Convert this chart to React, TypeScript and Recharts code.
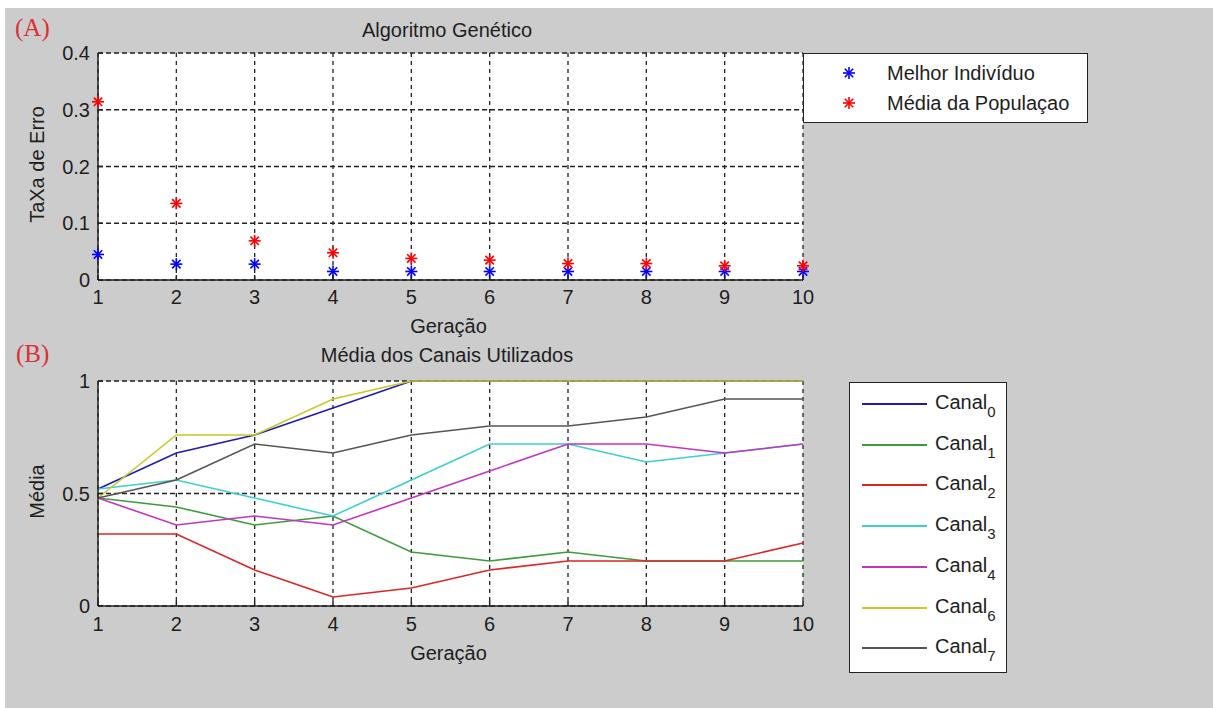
import React from 'react';
import {
  ScatterChart,
  Scatter,
  LineChart,
  Line,
  XAxis,
  YAxis,
  CartesianGrid,
  Legend,
} from 'recharts';

// Generations on the horizontal axis of both panels
const geracoes = [1, 2, 3, 4, 5, 6, 7, 8, 9, 10];

// Panel A: error rate per generation
const melhorIndividuo = [0.045, 0.028, 0.028, 0.015, 0.015, 0.015, 0.015, 0.015, 0.015, 0.015];
const mediaPopulacao = [0.314, 0.135, 0.069, 0.048, 0.038, 0.035, 0.029, 0.029, 0.025, 0.025];
const taxaTicks = [0, 0.1, 0.2, 0.3, 0.4];

// Panel B: mean usage of each channel per generation
const canal0 = [0.52, 0.68, 0.76, 0.88, 1, 1, 1, 1, 1, 1];
const canal1 = [0.48, 0.44, 0.36, 0.4, 0.24, 0.2, 0.24, 0.2, 0.2, 0.2];
const canal2 = [0.32, 0.32, 0.16, 0.04, 0.08, 0.16, 0.2, 0.2, 0.2, 0.28];
const canal3 = [0.52, 0.56, 0.48, 0.4, 0.56, 0.72, 0.72, 0.64, 0.68, 0.72];
const canal4 = [0.48, 0.36, 0.4, 0.36, 0.48, 0.6, 0.72, 0.72, 0.68, 0.72];
const canal6 = [0.48, 0.76, 0.76, 0.92, 1, 1, 1, 1, 1, 1];
const canal7 = [0.48, 0.56, 0.72, 0.68, 0.76, 0.8, 0.8, 0.84, 0.92, 0.92];
const canalIds = ['0', '1', '2', '3', '4', '6', '7'];
const canalSeries = [canal0, canal1, canal2, canal3, canal4, canal6, canal7];
const canalCores = ['#1c1cb4', '#3c9c3c', '#e02424', '#3ccfcf', '#c434c4', '#c8c828', '#555555'];
const mediaTicks = [0, 0.5, 1];

const FONT = "'Liberation Sans', Arial, Helvetica, sans-serif";
const TEXT = '#1e1e1e';
const AXIS = '#222222';

const dadosMelhor = geracoes.map((g, i) => ({ g, v: melhorIndividuo[i] }));
const dadosMedia = geracoes.map((g, i) => ({ g, v: mediaPopulacao[i] }));
const dadosCanais = geracoes.map((g, i) => {
  const row: Record<string, number> = { g };
  canalIds.forEach((id, k) => {
    row['c' + id] = canalSeries[k][i];
  });
  return row;
});

// MATLAB-style '*' marker: a plus sign overlaid with a cross
const asterisco = (cx: number, cy: number, color: string) => (
  <g stroke={color} strokeWidth={1.6} strokeLinecap="butt">
    <line x1={cx - 6} y1={cy} x2={cx + 6} y2={cy} />
    <line x1={cx} y1={cy - 6} x2={cx} y2={cy + 6} />
    <line x1={cx - 4.2} y1={cy - 4.2} x2={cx + 4.2} y2={cy + 4.2} />
    <line x1={cx - 4.2} y1={cy + 4.2} x2={cx + 4.2} y2={cy - 4.2} />
  </g>
);

const shapeAsterisco = (color: string) => (props: any) => asterisco(props.cx, props.cy, color);

const rotuloY = (texto: string) => (props: any) => {
  const vb = props.viewBox || {};
  const x = 44;
  const y = (vb.y || 0) + (vb.height || 0) / 2 - 2;
  return (
    <text
      x={x}
      y={y}
      transform={`rotate(-90 ${x} ${y})`}
      textAnchor="middle"
      fill={TEXT}
      fontSize={20}
      fontFamily={FONT}
    >
      {texto}
    </text>
  );
};

const rotuloX = (texto: string, dy: number) => (props: any) => {
  const vb = props.viewBox || {};
  return (
    <text
      x={(vb.x || 0) + (vb.width || 0) / 2 - 2}
      y={(vb.y || 0) + dy}
      textAnchor="middle"
      fill={TEXT}
      fontSize={20}
      fontFamily={FONT}
    >
      {texto}
    </text>
  );
};

const corDaSerie = (nome: string) => {
  if (nome === 'Melhor Indivíduo') return '#0000ff';
  if (nome === 'Média da Populaçao') return '#ff0000';
  const k = canalIds.indexOf(nome.replace('Canal', ''));
  return k >= 0 ? canalCores[k] : '#000000';
};

const LegendaAG = (props: any) => {
  const payload = props.payload || [];
  return (
    <div
      style={{
        boxSizing: 'border-box',
        width: 285,
        height: 70,
        background: '#ffffff',
        border: `1.5px solid ${AXIS}`,
        position: 'relative',
        fontFamily: FONT,
        fontSize: 20,
        color: TEXT,
      }}
    >
      {payload.map((e: any, i: number) => (
        <div key={i}>
          <svg
            width={24}
            height={24}
            style={{ position: 'absolute', left: 33, top: 7 + i * 30 }}
          >
            {asterisco(12, 12, corDaSerie(String(e.value)))}
          </svg>
          <span
            style={{
              position: 'absolute',
              left: 83,
              top: 7 + i * 30,
              lineHeight: '24px',
              whiteSpace: 'nowrap',
            }}
          >
            {e.value}
          </span>
        </div>
      ))}
    </div>
  );
};

const LegendaCanais = (props: any) => {
  const payload = props.payload || [];
  return (
    <div
      style={{
        boxSizing: 'border-box',
        width: 158,
        height: 291,
        background: '#ffffff',
        border: `1.5px solid ${AXIS}`,
        position: 'relative',
        fontFamily: FONT,
        fontSize: 20,
        color: TEXT,
      }}
    >
      {payload.map((e: any, i: number) => {
        const top = Math.round(21 + i * 40.7);
        const nome = String(e.value);
        const sub = nome.replace('Canal', '');
        return (
          <div key={i}>
            <svg
              width={66}
              height={6}
              style={{ position: 'absolute', left: 12, top: top - 3 }}
            >
              <line x1={0} y1={3} x2={65} y2={3} stroke={corDaSerie(nome)} strokeWidth={1.8} />
            </svg>
            <span
              style={{
                position: 'absolute',
                left: 85,
                top: top - 14,
                lineHeight: '24px',
                whiteSpace: 'nowrap',
              }}
            >
              Canal
              <span style={{ fontSize: 15, position: 'relative', top: 8 }}>{sub}</span>
            </span>
          </div>
        );
      })}
    </div>
  );
};

const tickStyle = { fill: TEXT, fontSize: 20, fontFamily: FONT };

export default function App() {
  return (
    <div
      style={{
        position: 'absolute',
        left: 0,
        top: 0,
        width: 1213,
        height: 708,
        background: '#ffffff',
        overflow: 'hidden',
      }}
    >
      <div
        style={{
          position: 'absolute',
          left: 5,
          top: 8,
          right: 0,
          bottom: 0,
          background: '#cccccc',
        }}
      />

      {/* Panel A */}
      <div style={{ position: 'absolute', left: 0, top: 0 }}>
        <ScatterChart
          width={1213}
          height={340}
          margin={{ top: 53, right: 410, bottom: 30, left: 0 }}
        >
          <CartesianGrid
            fill="#ffffff"
            vertical={false}
            stroke={AXIS}
            strokeWidth={1.3}
            strokeDasharray="5 3"
          />
          <CartesianGrid
            horizontal={false}
            stroke={AXIS}
            strokeWidth={1.3}
            strokeDasharray="4 4"
          />
          <XAxis
            xAxisId={0}
            dataKey="g"
            type="number"
            domain={[1, 10]}
            ticks={geracoes}
            height={30}
            axisLine={{ stroke: AXIS, strokeWidth: 1.5 }}
            tickLine={{ stroke: AXIS, strokeWidth: 1.5 }}
            tickSize={-5}
            tickMargin={15}
            tick={tickStyle}
            label={rotuloX('Geração', 53)}
          />
          <XAxis
            xAxisId="topo"
            dataKey="g"
            type="number"
            orientation="top"
            domain={[1, 10]}
            ticks={geracoes}
            height={0}
            axisLine={{ stroke: AXIS, strokeWidth: 1.5 }}
            tickLine={{ stroke: AXIS, strokeWidth: 1.5 }}
            tickSize={-5}
            tick={false}
          />
          <YAxis
            yAxisId={0}
            dataKey="v"
            type="number"
            domain={[0, 0.4]}
            ticks={taxaTicks}
            width={98}
            axisLine={{ stroke: AXIS, strokeWidth: 1.5 }}
            tickLine={{ stroke: AXIS, strokeWidth: 1.5 }}
            tickSize={-5}
            tickMargin={13}
            tick={tickStyle}
            label={rotuloY('TaXa de Erro')}
          />
          <YAxis
            yAxisId="dir"
            dataKey="v"
            type="number"
            orientation="right"
            domain={[0, 0.4]}
            ticks={taxaTicks}
            width={0}
            axisLine={{ stroke: AXIS, strokeWidth: 1.5 }}
            tickLine={{ stroke: AXIS, strokeWidth: 1.5 }}
            tickSize={-5}
            tick={false}
          />
          <Legend
            layout="vertical"
            align="center"
            verticalAlign="middle"
            content={<LegendaAG />}
            wrapperStyle={{ left: 803, top: 53, width: 285, height: 70 }}
          />
          <Scatter
            name="Melhor Indivíduo"
            data={dadosMelhor}
            fill="#0000ff"
            xAxisId={0}
            yAxisId={0}
            shape={shapeAsterisco('#0000ff')}
            isAnimationActive={false}
          />
          <Scatter
            name="Média da Populaçao"
            data={dadosMedia}
            fill="#ff0000"
            xAxisId={0}
            yAxisId={0}
            shape={shapeAsterisco('#ff0000')}
            isAnimationActive={false}
          />
        </ScatterChart>
      </div>

      {/* Panel B */}
      <div style={{ position: 'absolute', left: 0, top: 330 }}>
        <LineChart
          width={1213}
          height={340}
          data={dadosCanais}
          margin={{ top: 51, right: 410, bottom: 34, left: 0 }}
        >
          <CartesianGrid
            fill="#ffffff"
            vertical={false}
            stroke={AXIS}
            strokeWidth={1.3}
            strokeDasharray="5 3"
          />
          <CartesianGrid
            horizontal={false}
            stroke={AXIS}
            strokeWidth={1.3}
            strokeDasharray="4 4"
          />
          <XAxis
            xAxisId={0}
            dataKey="g"
            type="number"
            domain={[1, 10]}
            ticks={geracoes}
            height={30}
            axisLine={{ stroke: AXIS, strokeWidth: 1.5 }}
            tickLine={{ stroke: AXIS, strokeWidth: 1.5 }}
            tickSize={-5}
            tickMargin={16}
            tick={tickStyle}
            label={rotuloX('Geração', 54)}
          />
          <XAxis
            xAxisId="topo"
            dataKey="g"
            type="number"
            orientation="top"
            domain={[1, 10]}
            ticks={geracoes}
            height={0}
            axisLine={{ stroke: AXIS, strokeWidth: 1.5 }}
            tickLine={{ stroke: AXIS, strokeWidth: 1.5 }}
            tickSize={-5}
            tick={false}
          />
          <YAxis
            yAxisId={0}
            type="number"
            domain={[0, 1]}
            ticks={mediaTicks}
            width={98}
            axisLine={{ stroke: AXIS, strokeWidth: 1.5 }}
            tickLine={{ stroke: AXIS, strokeWidth: 1.5 }}
            tickSize={-5}
            tickMargin={13}
            tick={tickStyle}
            label={rotuloY('Média')}
          />
          <YAxis
            yAxisId="dir"
            type="number"
            orientation="right"
            domain={[0, 1]}
            ticks={mediaTicks}
            width={0}
            axisLine={{ stroke: AXIS, strokeWidth: 1.5 }}
            tickLine={{ stroke: AXIS, strokeWidth: 1.5 }}
            tickSize={-5}
            tick={false}
          />
          <Legend
            layout="vertical"
            align="center"
            verticalAlign="middle"
            content={<LegendaCanais />}
            wrapperStyle={{ left: 849, top: 52, width: 158, height: 291 }}
          />
          {canalIds.map((id, k) => (
            <Line
              key={id}
              name={'Canal' + id}
              dataKey={'c' + id}
              xAxisId={0}
              yAxisId={0}
              stroke={canalCores[k]}
              strokeWidth={1.6}
              dot={false}
              activeDot={false}
              type="linear"
              isAnimationActive={false}
            />
          ))}
        </LineChart>
      </div>

      {/* Panel titles and letters */}
      <svg
        width={1213}
        height={708}
        style={{ position: 'absolute', left: 0, top: 0, pointerEvents: 'none' }}
      >
        <text x={15} y={36} fontFamily="'Liberation Serif', 'DejaVu Serif', serif" fontSize={25} fill="#dc2f35">
          (A)
        </text>
        <text x={447} y={37} textAnchor="middle" fontFamily={FONT} fontSize={20} fill={TEXT}>
          Algoritmo Genético
        </text>
        <text x={16} y={362} fontFamily="'Liberation Serif', 'DejaVu Serif', serif" fontSize={25} fill="#dc2f35">
          (B)
        </text>
        <text x={447} y={362} textAnchor="middle" fontFamily={FONT} fontSize={20} fill={TEXT}>
          Média dos Canais Utilizados
        </text>
      </svg>
    </div>
  );
}
